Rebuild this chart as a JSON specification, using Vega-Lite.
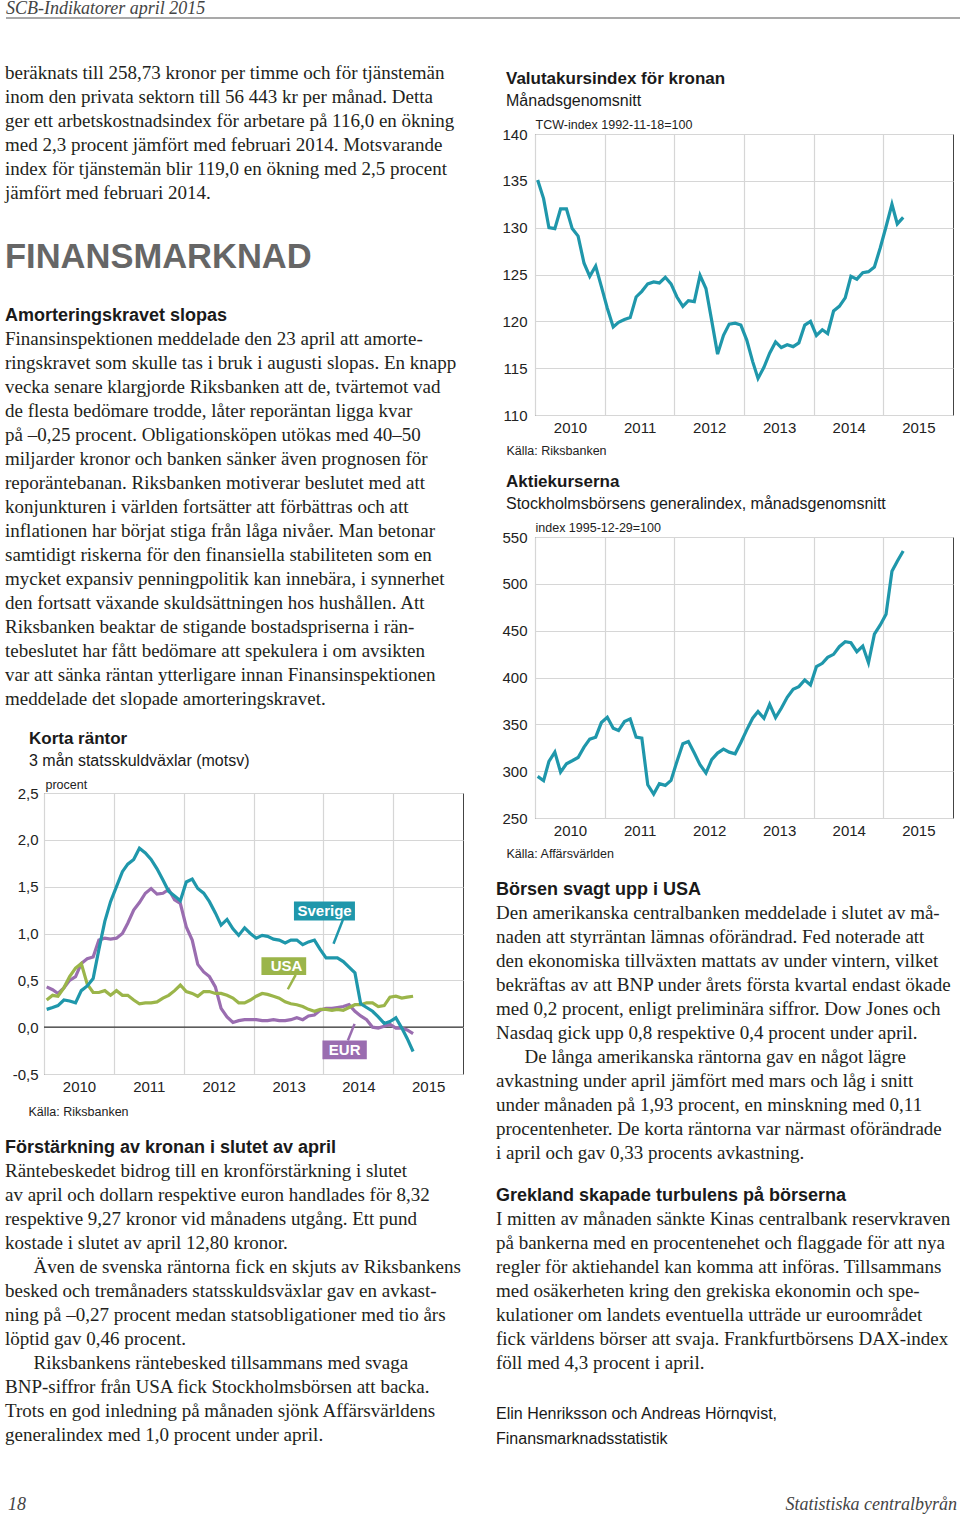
{
"$schema": "https://vega.github.io/schema/vega-lite/v6.json",
"padding": {"left": 5, "top": 0, "right": 0, "bottom": 0},
"autosize": {"type": "pad"},
"background": "white",
"columns": 1,
"align": "none",
"spacing": 0,
"bounds": "full",
"config": {
 "view": {"stroke": null},
 "concat": {"spacing": 0},
 "axis": {"labelFont": "Liberation Sans", "labelFontSize": 15, "labelColor": "#222", "ticks": false, "tickSize": 0, "domain": false, "gridColor": "#d6d6d6", "gridWidth": 1.2, "titleFont": "Liberation Sans", "titleFontSize": 12.5, "titleFontWeight": "normal", "titleColor": "#222", "labelFlush": false, "labelOverlap": false},
 "title": {"anchor": "start", "frame": "group", "font": "Liberation Sans", "fontSize": 17, "fontWeight": "bold", "color": "#1a1a1a", "subtitleFont": "Liberation Sans", "subtitleFontSize": 16, "subtitleColor": "#1a1a1a", "subtitlePadding": 5, "offset": 8}
},
"datasets": {
 "m": [
  {"d":"2010-01-15","kr":135.1,"ak":294.4,"Sverige":0.19,"USA":0.29,"EUR":0.43},
  {"d":"2010-02-15","kr":133.1,"ak":289.8,"Sverige":0.21,"USA":0.34,"EUR":0.40},
  {"d":"2010-03-15","kr":130.0,"ak":310.4,"Sverige":0.23,"USA":0.33,"EUR":0.36},
  {"d":"2010-04-15","kr":129.9,"ak":320.3,"Sverige":0.29,"USA":0.42,"EUR":0.42},
  {"d":"2010-05-15","kr":132.0,"ak":299.0,"Sverige":0.28,"USA":0.54,"EUR":0.50},
  {"d":"2010-06-15","kr":132.0,"ak":307.9,"Sverige":0.26,"USA":0.63,"EUR":0.54},
  {"d":"2010-07-15","kr":129.9,"ak":311.1,"Sverige":0.39,"USA":0.68,"EUR":0.68},
  {"d":"2010-08-15","kr":129.1,"ak":314.6,"Sverige":0.44,"USA":0.46,"EUR":0.73},
  {"d":"2010-09-15","kr":126.2,"ak":325.6,"Sverige":0.52,"USA":0.37,"EUR":0.75},
  {"d":"2010-10-15","kr":124.8,"ak":334.2,"Sverige":0.83,"USA":0.37,"EUR":0.93},
  {"d":"2010-11-15","kr":125.9,"ak":336.3,"Sverige":1.13,"USA":0.39,"EUR":0.95},
  {"d":"2010-12-15","kr":123.7,"ak":351.9,"Sverige":1.34,"USA":0.34,"EUR":0.94},
  {"d":"2011-01-15","kr":121.4,"ak":357.6,"Sverige":1.50,"USA":0.39,"EUR":0.95},
  {"d":"2011-02-15","kr":119.4,"ak":345.9,"Sverige":1.66,"USA":0.34,"EUR":1.00},
  {"d":"2011-03-15","kr":119.9,"ak":343.4,"Sverige":1.74,"USA":0.34,"EUR":1.11},
  {"d":"2011-04-15","kr":120.2,"ak":353.0,"Sverige":1.79,"USA":0.29,"EUR":1.25},
  {"d":"2011-05-15","kr":120.4,"ak":355.8,"Sverige":1.91,"USA":0.25,"EUR":1.33},
  {"d":"2011-06-15","kr":122.6,"ak":336.3,"Sverige":1.86,"USA":0.26,"EUR":1.43},
  {"d":"2011-07-15","kr":123.2,"ak":335.2,"Sverige":1.79,"USA":0.26,"EUR":1.48},
  {"d":"2011-08-15","kr":124.0,"ak":285.5,"Sverige":1.69,"USA":0.27,"EUR":1.42},
  {"d":"2011-09-15","kr":124.2,"ak":275.6,"Sverige":1.57,"USA":0.31,"EUR":1.43},
  {"d":"2011-10-15","kr":124.1,"ak":286.6,"Sverige":1.45,"USA":0.34,"EUR":1.47},
  {"d":"2011-11-15","kr":124.7,"ak":284.8,"Sverige":1.40,"USA":0.39,"EUR":1.36},
  {"d":"2011-12-15","kr":124.0,"ak":290.1,"Sverige":1.35,"USA":0.45,"EUR":1.32},
  {"d":"2012-01-15","kr":122.6,"ak":310.4,"Sverige":1.55,"USA":0.38,"EUR":1.07},
  {"d":"2012-02-15","kr":121.6,"ak":329.2,"Sverige":1.58,"USA":0.36,"EUR":0.93},
  {"d":"2012-03-15","kr":122.2,"ak":331.7,"Sverige":1.48,"USA":0.33,"EUR":0.67},
  {"d":"2012-04-15","kr":122.1,"ak":319.3,"Sverige":1.43,"USA":0.38,"EUR":0.59},
  {"d":"2012-05-15","kr":124.9,"ak":306.8,"Sverige":1.34,"USA":0.38,"EUR":0.54},
  {"d":"2012-06-15","kr":123.5,"ak":298.0,"Sverige":1.22,"USA":0.36,"EUR":0.43},
  {"d":"2012-07-15","kr":120.1,"ak":312.2,"Sverige":1.09,"USA":0.36,"EUR":0.20},
  {"d":"2012-08-15","kr":116.5,"ak":319.3,"Sverige":1.15,"USA":0.34,"EUR":0.11},
  {"d":"2012-09-15","kr":118.5,"ak":323.5,"Sverige":1.05,"USA":0.31,"EUR":0.05},
  {"d":"2012-10-15","kr":119.7,"ak":320.3,"Sverige":0.98,"USA":0.26,"EUR":0.07},
  {"d":"2012-11-15","kr":119.8,"ak":318.6,"Sverige":1.06,"USA":0.26,"EUR":0.08},
  {"d":"2012-12-15","kr":119.6,"ak":330.6,"Sverige":1.00,"USA":0.29,"EUR":0.08},
  {"d":"2013-01-15","kr":118.0,"ak":344.1,"Sverige":0.95,"USA":0.33,"EUR":0.08},
  {"d":"2013-02-15","kr":115.7,"ak":356.5,"Sverige":0.98,"USA":0.36,"EUR":0.07},
  {"d":"2013-03-15","kr":113.9,"ak":363.6,"Sverige":0.97,"USA":0.35,"EUR":0.07},
  {"d":"2013-04-15","kr":115.1,"ak":356.5,"Sverige":0.94,"USA":0.33,"EUR":0.08},
  {"d":"2013-05-15","kr":116.6,"ak":371.4,"Sverige":0.93,"USA":0.31,"EUR":0.07},
  {"d":"2013-06-15","kr":117.8,"ak":357.2,"Sverige":0.90,"USA":0.27,"EUR":0.07},
  {"d":"2013-07-15","kr":117.2,"ak":367.2,"Sverige":0.93,"USA":0.25,"EUR":0.08},
  {"d":"2013-08-15","kr":117.5,"ak":378.9,"Sverige":0.93,"USA":0.24,"EUR":0.10},
  {"d":"2013-09-15","kr":117.3,"ak":387.4,"Sverige":0.88,"USA":0.22,"EUR":0.08},
  {"d":"2013-10-15","kr":117.7,"ak":390.2,"Sverige":0.91,"USA":0.19,"EUR":0.12},
  {"d":"2013-11-15","kr":119.6,"ak":397.4,"Sverige":0.93,"USA":0.17,"EUR":0.13},
  {"d":"2013-12-15","kr":120.0,"ak":392.0,"Sverige":0.83,"USA":0.19,"EUR":0.18},
  {"d":"2014-01-15","kr":118.5,"ak":411.6,"Sverige":0.74,"USA":0.19,"EUR":0.20},
  {"d":"2014-02-15","kr":119.1,"ak":415.1,"Sverige":0.74,"USA":0.18,"EUR":0.20},
  {"d":"2014-03-15","kr":118.7,"ak":421.5,"Sverige":0.74,"USA":0.19,"EUR":0.21},
  {"d":"2014-04-15","kr":121.1,"ak":424.7,"Sverige":0.70,"USA":0.18,"EUR":0.22},
  {"d":"2014-05-15","kr":121.6,"ak":432.9,"Sverige":0.64,"USA":0.21,"EUR":0.24},
  {"d":"2014-06-15","kr":122.5,"ak":438.2,"Sverige":0.58,"USA":0.24,"EUR":0.17},
  {"d":"2014-07-15","kr":124.8,"ak":437.1,"Sverige":0.25,"USA":0.24,"EUR":0.12},
  {"d":"2014-08-15","kr":124.5,"ak":427.5,"Sverige":0.21,"USA":0.26,"EUR":0.08},
  {"d":"2014-09-15","kr":125.2,"ak":433.6,"Sverige":0.17,"USA":0.26,"EUR":0.00},
  {"d":"2014-10-15","kr":125.3,"ak":415.8,"Sverige":0.11,"USA":0.22,"EUR":-0.01},
  {"d":"2014-11-15","kr":125.8,"ak":446.3,"Sverige":0.04,"USA":0.23,"EUR":0.01},
  {"d":"2014-12-15","kr":127.8,"ak":455.9,"Sverige":0.06,"USA":0.32,"EUR":0.03},
  {"d":"2015-01-15","kr":130.1,"ak":467.6,"Sverige":0.10,"USA":0.33,"EUR":-0.01},
  {"d":"2015-02-15","kr":132.5,"ak":513.4,"Sverige":-0.01,"USA":0.31,"EUR":-0.01},
  {"d":"2015-03-15","kr":130.4,"ak":524.1,"Sverige":-0.12,"USA":0.32,"EUR":-0.03},
  {"d":"2015-04-15","kr":131.1,"ak":535.1,"Sverige":-0.26,"USA":0.33,"EUR":-0.07}
 ],
 "ann": [
  {"lab":"Sverige","x1":"2013-07-31","x2":"2014-06-15","y1":1.139,"y2":1.342,"xm":"2014-01-07","ym":1.24,"px1":"2014-04-13","py1":1.146,"px2":"2014-02-23","py2":0.89},
  {"lab":"USA","x1":"2013-02-11","x2":"2013-10-03","y1":0.558,"y2":0.747,"xm":"2013-06-22","ym":0.652,"px1":"2013-08-09","py1":0.558,"px2":"2013-06-29","py2":0.405},
  {"lab":"EUR","x1":"2013-12-27","x2":"2014-08-16","y1":-0.343,"y2":-0.143,"xm":"2014-04-22","ym":-0.243,"px1":"2014-05-09","py1":-0.143,"px2":"2014-06-13","py2":0.035}
 ]
},
"concat": [
 {"width": 916, "height": 18,
  "layer": [
   {"data": {"values": [{"a": -0.0415, "b": 1, "y": 0}]},
    "mark": {"type": "rule", "color": "#555", "strokeWidth": 1.2},
    "encoding": {
     "x": {"field": "a", "type": "quantitative", "scale": {"domain": [0, 1]}, "axis": null},
     "x2": {"field": "b"},
     "y": {"field": "y", "type": "quantitative", "scale": {"domain": [0, 1]}, "axis": null}
    }},
   {"data": {"values": [{"t": "SCB-Indikatorer april 2015"}]},
    "mark": {"type": "text", "align": "left", "baseline": "middle", "dx": -38, "dy": 0, "font": "Liberation Serif", "fontSize": 18, "fontStyle": "italic", "color": "#444"},
    "encoding": {
     "x": {"datum": 0, "type": "quantitative", "axis": null},
     "text": {"field": "t"}
    }}
  ]
 },
 {"hconcat": [
  {"vconcat": [
   {"width": 419, "height": 207,
    "data": {"values": [
     {"n":0,"t":"beräknats till 258,73 kronor per timme och för tjänstemän"},
     {"n":1,"t":"inom den privata sektorn till 56 443 kr per månad. Detta"},
     {"n":2,"t":"ger ett arbetskostnadsindex för arbetare på 116,0 en ökning"},
     {"n":3,"t":"med 2,3 procent jämfört med februari 2014. Motsvarande"},
     {"n":4,"t":"index för tjänstemän blir 119,0 en ökning med 2,5 procent"},
     {"n":5,"t":"jämfört med februari 2014."}
    ]},
    "mark": {"type": "text", "align": "left", "baseline": "middle", "dx": -39, "font": "Liberation Serif", "fontSize": 19, "color": "#231f20"},
    "encoding": {
     "x": {"datum": 0, "type": "quantitative", "scale": {"domain": [0, 1]}, "axis": null},
     "y": {"field": "n", "type": "quantitative", "scale": {"domain": [-2.25, 6.375], "reverse": true, "nice": false, "zero": false}, "axis": null},
     "text": {"field": "t"}
    }
   },
   {"width": 419, "height": 64,
    "data": {"values": [{"n":0,"t":"FINANSMARKNAD"}]},
    "mark": {"type": "text", "align": "left", "baseline": "middle", "dx": -39, "font": "Liberation Sans", "fontSize": 34.5, "fontWeight": "bold", "color": "#666"},
    "encoding": {
     "x": {"datum": 0, "type": "quantitative", "scale": {"domain": [0, 1]}, "axis": null},
     "y": {"field": "n", "type": "quantitative", "scale": {"domain": [-1.3333, 1.3333], "reverse": true, "nice": false, "zero": false}, "axis": null},
     "text": {"field": "t"}
    }
   },
   {"width": 419, "height": 50,
    "data": {"values": [{"n":0,"t":"Amorteringskravet slopas"}]},
    "mark": {"type": "text", "align": "left", "baseline": "middle", "dx": -39, "dy": 1, "font": "Liberation Sans", "fontSize": 18, "fontWeight": "bold", "color": "#1a1a1a"},
    "encoding": {
     "x": {"datum": 0, "type": "quantitative", "scale": {"domain": [0, 1]}, "axis": null},
     "y": {"field": "n", "type": "quantitative", "scale": {"domain": [-1.0417, 1.0417], "reverse": true, "nice": false, "zero": false}, "axis": null},
     "text": {"field": "t"}
    }
   },
   {"width": 419, "height": 453,
    "data": {"values": [
     {"n":0,"t":"Finansinspektionen meddelade den 23 april att amorte-"},
     {"n":1,"t":"ringskravet som skulle tas i bruk i augusti slopas. En knapp"},
     {"n":2,"t":"vecka senare klargjorde Riksbanken att de, tvärtemot vad"},
     {"n":3,"t":"de flesta bedömare trodde, låter reporäntan ligga kvar"},
     {"n":4,"t":"på –0,25 procent. Obligationsköpen utökas med 40–50"},
     {"n":5,"t":"miljarder kronor och banken sänker även prognosen för"},
     {"n":6,"t":"reporäntebanan. Riksbanken motiverar beslutet med att"},
     {"n":7,"t":"konjunkturen i världen fortsätter att förbättras och att"},
     {"n":8,"t":"inflationen har börjat stiga från låga nivåer. Man betonar"},
     {"n":9,"t":"samtidigt riskerna för den finansiella stabiliteten som en"},
     {"n":10,"t":"mycket expansiv penningpolitik kan innebära, i synnerhet"},
     {"n":11,"t":"den fortsatt växande skuldsättningen hos hushållen. Att"},
     {"n":12,"t":"Riksbanken beaktar de stigande bostadspriserna i rän-"},
     {"n":13,"t":"tebeslutet har fått bedömare att spekulera i om avsikten"},
     {"n":14,"t":"var att sänka räntan ytterligare innan Finansinspektionen"},
     {"n":15,"t":"meddelade det slopade amorteringskravet."}
    ]},
    "mark": {"type": "text", "align": "left", "baseline": "middle", "dx": -39, "font": "Liberation Serif", "fontSize": 19, "color": "#231f20"},
    "encoding": {
     "x": {"datum": 0, "type": "quantitative", "scale": {"domain": [0, 1]}, "axis": null},
     "y": {"field": "n", "type": "quantitative", "scale": {"domain": [0.0417, 18.9167], "reverse": true, "nice": false, "zero": false}, "axis": null},
     "text": {"field": "t"}
    }
   },
   {"width": 419, "height": 281,
    "view": {"stroke": "#444", "strokeWidth": 1},
    "title": {"text": "Korta räntor", "subtitle": "3 mån statsskuldväxlar (motsv)", "dx": -15},
    "layer": [
     {"data": {"values": [{"v": 0}]},
      "mark": {"type": "rule", "color": "#333", "strokeWidth": 1.2},
      "encoding": {"y": {"field": "v", "type": "quantitative"}}},
     {"data": {"name": "m"},
      "transform": [{"fold": ["EUR", "USA", "Sverige"], "as": ["s", "v"]}],
      "mark": {"type": "line", "strokeWidth": 3.2},
      "encoding": {
       "x": {"field": "d", "type": "temporal",
        "scale": {"type": "utc", "nice": false, "domain": [{"year": 2010, "month": 1, "date": 1, "utc": true}, {"year": 2016, "month": 1, "date": 1, "utc": true}]},
        "axis": {"values": [{"year": 2010, "month": 1, "date": 1, "utc": true}, {"year": 2011, "month": 1, "date": 1, "utc": true}, {"year": 2012, "month": 1, "date": 1, "utc": true}, {"year": 2013, "month": 1, "date": 1, "utc": true}, {"year": 2014, "month": 1, "date": 1, "utc": true}, {"year": 2015, "month": 1, "date": 1, "utc": true}],
         "format": "%Y", "formatType": "utc", "labelOffset": 35, "labelPadding": 5, "grid": true,
         "title": "Källa: Riksbanken", "titleX": -16, "titleY": 37, "titleAlign": "left", "titleBaseline": "middle", "titleAngle": 0}},
       "y": {"field": "v", "type": "quantitative",
        "scale": {"domain": [-0.5, 2.5], "nice": false, "zero": false},
        "axis": {"values": [-0.5, 0, 0.5, 1, 1.5, 2, 2.5], "labelExpr": "replace(replace(format(datum.value, '.1f'), '.', ','), '−', '-')", "labelPadding": 6, "grid": true,
         "title": "procent", "titleX": 1, "titleY": -5, "titleAlign": "left", "titleBaseline": "alphabetic", "titleAngle": 0}},
       "color": {"field": "s", "type": "nominal", "scale": {"domain": ["Sverige", "USA", "EUR"], "range": ["#1f97ab", "#9bb54a", "#9a6db0"]}, "legend": null}
      }},
     {"data": {"name": "ann"},
      "mark": {"type": "rule", "strokeWidth": 2.5},
      "encoding": {
       "x": {"field": "px1", "type": "temporal", "scale": {"type": "utc"}},
       "x2": {"field": "px2"},
       "y": {"field": "py1", "type": "quantitative"},
       "y2": {"field": "py2"},
       "color": {"field": "lab", "type": "nominal", "legend": null}
      }},
     {"data": {"name": "ann"},
      "mark": {"type": "rect"},
      "encoding": {
       "x": {"field": "x1", "type": "temporal", "scale": {"type": "utc"}},
       "x2": {"field": "x2"},
       "y": {"field": "y1", "type": "quantitative"},
       "y2": {"field": "y2"},
       "color": {"field": "lab", "type": "nominal", "legend": null}
      }},
     {"data": {"name": "ann"},
      "mark": {"type": "text", "color": "white", "font": "Liberation Sans", "fontWeight": "bold", "fontSize": 15, "baseline": "middle", "align": "center"},
      "encoding": {
       "x": {"field": "xm", "type": "temporal", "scale": {"type": "utc"}},
       "y": {"field": "ym", "type": "quantitative"},
       "text": {"field": "lab"}
      }}
    ]
   },
   {"width": 419, "height": 85,
    "data": {"values": [{"n":0,"t":"Förstärkning av kronan i slutet av april"}]},
    "mark": {"type": "text", "align": "left", "baseline": "middle", "dx": -39, "dy": 1, "font": "Liberation Sans", "fontSize": 18, "fontWeight": "bold", "color": "#1a1a1a"},
    "encoding": {
     "x": {"datum": 0, "type": "quantitative", "scale": {"domain": [0, 1]}, "axis": null},
     "y": {"field": "n", "type": "quantitative", "scale": {"domain": [-3.0417, 0.5], "reverse": true, "nice": false, "zero": false}, "axis": null},
     "text": {"field": "t"}
    }
   },
   {"width": 419, "height": 311,
    "data": {"values": [
     {"n":0,"t":"Räntebeskedet bidrog till en kronförstärkning i slutet"},
     {"n":1,"t":"av april och dollarn respektive euron handlades för 8,32"},
     {"n":2,"t":"respektive 9,27 kronor vid månadens utgång. Ett pund"},
     {"n":3,"t":"kostade i slutet av april 12,80 kronor."},
     {"n":4,"t":"\u200b\u00a0\u00a0\u00a0\u00a0\u00a0\u00a0Även de svenska räntorna fick en skjuts av Riksbankens"},
     {"n":5,"t":"besked och tremånaders statsskuldsväxlar gav en avkast-"},
     {"n":6,"t":"ning på –0,27 procent medan statsobligationer med tio års"},
     {"n":7,"t":"löptid gav 0,46 procent."},
     {"n":8,"t":"\u200b\u00a0\u00a0\u00a0\u00a0\u00a0\u00a0Riksbankens räntebesked tillsammans med svaga"},
     {"n":9,"t":"BNP-siffror från USA fick Stockholmsbörsen att backa."},
     {"n":10,"t":"Trots en god inledning på månaden sjönk Affärsvärldens"},
     {"n":11,"t":"generalindex med 1,0 procent under april."}
    ]},
    "mark": {"type": "text", "align": "left", "baseline": "middle", "dx": -39, "font": "Liberation Serif", "fontSize": 19, "color": "#231f20"},
    "encoding": {
     "x": {"datum": 0, "type": "quantitative", "scale": {"domain": [0, 1]}, "axis": null},
     "y": {"field": "n", "type": "quantitative", "scale": {"domain": [-0.5, 12.4583], "reverse": true, "nice": false, "zero": false}, "axis": null},
     "text": {"field": "t"}
    }
   }
  ], "spacing": 0, "bounds": "flush"},
  {"vconcat": [
   {"width": 418, "height": 115, "data": {"values": []}, "mark": "text", "encoding": {}},
   {"width": 418, "height": 281,
    "view": {"stroke": "#444", "strokeWidth": 1},
    "title": {"text": "Valutakursindex för kronan", "subtitle": "Månadsgenomsnitt", "dx": -29},
    "data": {"name": "m"},
    "mark": {"type": "line", "color": "#1f97ab", "strokeWidth": 3.2},
    "encoding": {
     "x": {"field": "d", "type": "temporal",
      "scale": {"type": "utc", "nice": false, "domain": [{"year": 2010, "month": 1, "date": 1, "utc": true}, {"year": 2016, "month": 1, "date": 1, "utc": true}]},
      "axis": {"values": [{"year": 2010, "month": 1, "date": 1, "utc": true}, {"year": 2011, "month": 1, "date": 1, "utc": true}, {"year": 2012, "month": 1, "date": 1, "utc": true}, {"year": 2013, "month": 1, "date": 1, "utc": true}, {"year": 2014, "month": 1, "date": 1, "utc": true}, {"year": 2015, "month": 1, "date": 1, "utc": true}],
       "format": "%Y", "formatType": "utc", "labelOffset": 35, "labelPadding": 5, "grid": true,
       "title": "Källa: Riksbanken", "titleX": -29, "titleY": 35, "titleAlign": "left", "titleBaseline": "middle", "titleAngle": 0}},
     "y": {"field": "kr", "type": "quantitative",
      "scale": {"domain": [110, 140], "nice": false, "zero": false},
      "axis": {"values": [110, 115, 120, 125, 130, 135, 140], "labelPadding": 8, "grid": true,
       "title": "TCW-index 1992-11-18=100", "titleX": 0, "titleY": -6, "titleAlign": "left", "titleBaseline": "alphabetic", "titleAngle": 0}}
    }
   },
   {"width": 418, "height": 122, "data": {"values": []}, "mark": "text", "encoding": {}},
   {"width": 418, "height": 281,
    "view": {"stroke": "#444", "strokeWidth": 1},
    "title": {"text": "Aktiekurserna", "subtitle": "Stockholmsbörsens generalindex, månadsgenomsnitt", "dx": -29},
    "data": {"name": "m"},
    "mark": {"type": "line", "color": "#1f97ab", "strokeWidth": 3.2},
    "encoding": {
     "x": {"field": "d", "type": "temporal",
      "scale": {"type": "utc", "nice": false, "domain": [{"year": 2010, "month": 1, "date": 1, "utc": true}, {"year": 2016, "month": 1, "date": 1, "utc": true}]},
      "axis": {"values": [{"year": 2010, "month": 1, "date": 1, "utc": true}, {"year": 2011, "month": 1, "date": 1, "utc": true}, {"year": 2012, "month": 1, "date": 1, "utc": true}, {"year": 2013, "month": 1, "date": 1, "utc": true}, {"year": 2014, "month": 1, "date": 1, "utc": true}, {"year": 2015, "month": 1, "date": 1, "utc": true}],
       "format": "%Y", "formatType": "utc", "labelOffset": 35, "labelPadding": 5, "grid": true,
       "title": "Källa: Affärsvärlden", "titleX": -29, "titleY": 35, "titleAlign": "left", "titleBaseline": "middle", "titleAngle": 0}},
     "y": {"field": "ak", "type": "quantitative",
      "scale": {"domain": [250, 550], "nice": false, "zero": false},
      "axis": {"values": [250, 300, 350, 400, 450, 500, 550], "labelPadding": 8, "grid": true,
       "title": "index 1995-12-29=100", "titleX": 0, "titleY": -6, "titleAlign": "left", "titleBaseline": "alphabetic", "titleAngle": 0}}
    }
   },
   {"width": 418, "height": 83,
    "data": {"values": [{"n":0,"t":"Börsen svagt upp i USA"}]},
    "mark": {"type": "text", "align": "left", "baseline": "middle", "dx": -39, "dy": 1, "font": "Liberation Sans", "fontSize": 18, "fontWeight": "bold", "color": "#1a1a1a"},
    "encoding": {
     "x": {"datum": 0, "type": "quantitative", "scale": {"domain": [0, 1]}, "axis": null},
     "y": {"field": "n", "type": "quantitative", "scale": {"domain": [-2.9583, 0.5], "reverse": true, "nice": false, "zero": false}, "axis": null},
     "text": {"field": "t"}
    }
   },
   {"width": 418, "height": 282,
    "data": {"values": [
     {"n":0,"t":"Den amerikanska centralbanken meddelade i slutet av må-"},
     {"n":1,"t":"naden att styrräntan lämnas oförändrad. Fed noterade att"},
     {"n":2,"t":"den ekonomiska tillväxten mattats av under vintern, vilket"},
     {"n":3,"t":"bekräftas av att BNP under årets första kvartal endast ökade"},
     {"n":4,"t":"med 0,2 procent, enligt preliminära siffror. Dow Jones och"},
     {"n":5,"t":"Nasdaq gick upp 0,8 respektive 0,4 procent under april."},
     {"n":6,"t":"\u200b\u00a0\u00a0\u00a0\u00a0\u00a0\u00a0De långa amerikanska räntorna gav en något lägre"},
     {"n":7,"t":"avkastning under april jämfört med mars och låg i snitt"},
     {"n":8,"t":"under månaden på 1,93 procent, en minskning med 0,11"},
     {"n":9,"t":"procentenheter. De korta räntorna var närmast oförändrade"},
     {"n":10,"t":"i april och gav 0,33 procents avkastning."}
    ]},
    "mark": {"type": "text", "align": "left", "baseline": "middle", "dx": -39, "font": "Liberation Serif", "fontSize": 19, "color": "#231f20"},
    "encoding": {
     "x": {"datum": 0, "type": "quantitative", "scale": {"domain": [0, 1]}, "axis": null},
     "y": {"field": "n", "type": "quantitative", "scale": {"domain": [-0.5, 11.25], "reverse": true, "nice": false, "zero": false}, "axis": null},
     "text": {"field": "t"}
    }
   },
   {"width": 418, "height": 24,
    "data": {"values": [{"n":0,"t":"Grekland skapade turbulens på börserna"}]},
    "mark": {"type": "text", "align": "left", "baseline": "middle", "dx": -39, "dy": 1, "font": "Liberation Sans", "fontSize": 18, "fontWeight": "bold", "color": "#1a1a1a"},
    "encoding": {
     "x": {"datum": 0, "type": "quantitative", "scale": {"domain": [0, 1]}, "axis": null},
     "y": {"field": "n", "type": "quantitative", "scale": {"domain": [-0.5, 0.5], "reverse": true, "nice": false, "zero": false}, "axis": null},
     "text": {"field": "t"}
    }
   },
   {"width": 418, "height": 182,
    "data": {"values": [
     {"n":0,"t":"I mitten av månaden sänkte Kinas centralbank reservkraven"},
     {"n":1,"t":"på bankerna med en procentenehet och flaggade för att nya"},
     {"n":2,"t":"regler för aktiehandel kan komma att införas. Tillsammans"},
     {"n":3,"t":"med osäkerheten kring den grekiska ekonomin och spe-"},
     {"n":4,"t":"kulationer om landets eventuella utträde ur euroområdet"},
     {"n":5,"t":"fick världens börser att svaja. Frankfurtbörsens DAX-index"},
     {"n":6,"t":"föll med 4,3 procent i april."}
    ]},
    "mark": {"type": "text", "align": "left", "baseline": "middle", "dx": -39, "font": "Liberation Serif", "fontSize": 19, "color": "#231f20"},
    "encoding": {
     "x": {"datum": 0, "type": "quantitative", "scale": {"domain": [0, 1]}, "axis": null},
     "y": {"field": "n", "type": "quantitative", "scale": {"domain": [-0.5, 7.0833], "reverse": true, "nice": false, "zero": false}, "axis": null},
     "text": {"field": "t"}
    }
   },
   {"width": 418, "height": 81,
    "data": {"values": [
     {"n":0,"t":"Elin Henriksson och Andreas Hörnqvist,"},
     {"n":1,"t":"Finansmarknadsstatistik"}
    ]},
    "mark": {"type": "text", "align": "left", "baseline": "middle", "dx": -39, "font": "Liberation Sans", "fontSize": 16, "color": "#1a1a1a"},
    "encoding": {
     "x": {"datum": 0, "type": "quantitative", "scale": {"domain": [0, 1]}, "axis": null},
     "y": {"field": "n", "type": "quantitative", "scale": {"domain": [-1, 2.24], "reverse": true, "nice": false, "zero": false}, "axis": null},
     "text": {"field": "t"}
    }
   }
  ], "spacing": 0, "bounds": "flush"}
 ], "spacing": 31, "bounds": "full"},
 {"width": 916, "height": 50,
  "layer": [
   {"data": {"values": [{"n": 0, "t": "18"}]},
    "mark": {"type": "text", "align": "left", "baseline": "middle", "dx": -36, "font": "Liberation Serif", "fontSize": 18, "fontStyle": "italic", "color": "#444"},
    "encoding": {
     "x": {"datum": 0, "type": "quantitative", "scale": {"domain": [0, 1]}, "axis": null},
     "y": {"field": "n", "type": "quantitative", "scale": {"domain": [-1.4583, 0.625], "reverse": true, "nice": false, "zero": false}, "axis": null},
     "text": {"field": "t"}
    }},
   {"data": {"values": [{"n": 0, "t": "Statistiska centralbyrån"}]},
    "mark": {"type": "text", "align": "right", "baseline": "middle", "dx": -3, "font": "Liberation Serif", "fontSize": 18, "fontStyle": "italic", "color": "#444"},
    "encoding": {
     "x": {"datum": 1, "type": "quantitative", "axis": null},
     "y": {"field": "n", "type": "quantitative", "axis": null},
     "text": {"field": "t"}
    }}
  ]
 }
]
}
